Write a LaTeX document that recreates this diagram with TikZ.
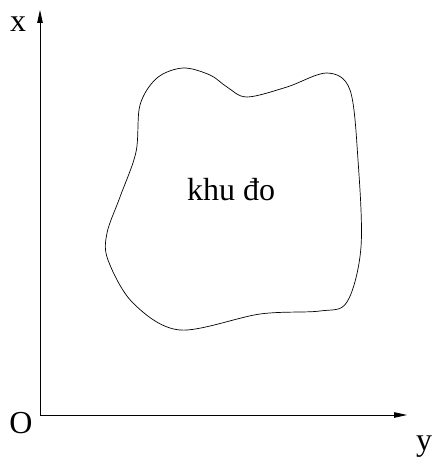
\documentclass[tikz,border=0pt]{standalone}
\usepackage{fontspec}
\setmainfont{Liberation Serif}
\usetikzlibrary{arrows.meta}
\begin{document}
\begin{tikzpicture}[x=1pt,y=-1pt,
  axis/.style={line width=0.8pt,-{Triangle[length=13pt,width=5.5pt]}},
  lbl/.style={inner sep=0pt,font=\fontsize{32}{36}\selectfont},
  blob/.style={line width=0.7pt}]
\useasboundingbox (0,0) rectangle (432,460);
\coordinate (O) at (40,415);
\coordinate (X) at (40,10);
\coordinate (Y) at (407,415);
\draw[axis] (O) -- (X);
\draw[axis] (O) -- (Y);
\node[lbl] (xl) at (18,24) {x};
\node[lbl] (ol) at (21,423) {O};
\node[lbl] (yl) at (424,447) {y};
\draw[blob] plot[smooth cycle, tension=0.55] coordinates {
 (183,68) (210,75) (227,87) (247,97) (287,87) (327,73) (350,90)
 (358,160) (361,247) (347,302) (320,311) (260,314) (180,330)
 (133,303) (108,260) (107,233) (120,197) (136,152) (140,105) (157,78)};
\node[lbl] (area) at (231,190) {khu đo};
\end{tikzpicture}
\end{document}
